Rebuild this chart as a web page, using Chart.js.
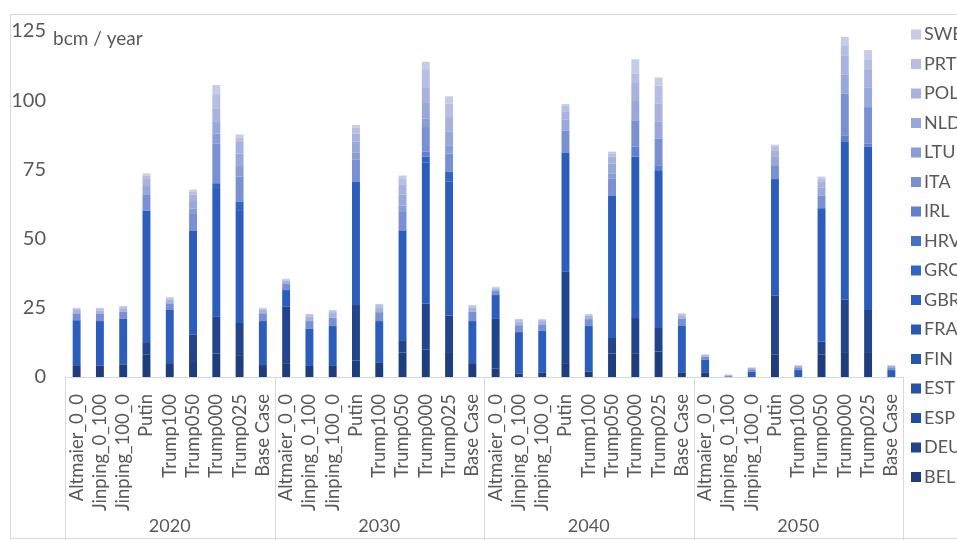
<!DOCTYPE html>
<html>
<head>
<meta charset="utf-8">
<script src="https://cdn.jsdelivr.net/npm/chart.js@4.4.1/dist/chart.umd.min.js"></script>
<style>
    html, body { margin: 0; padding: 0; background: #fff; }
    #wrap { position: relative; width: 957px; height: 540px; overflow: hidden; }
    #frame { position: absolute; left: 10px; top: 14px; width: 1000px; height: 523px; border: 1px solid #d9d9d9; }
    canvas { position: absolute; left: 0; top: 0; }
</style>
</head>
<body>
<div id="wrap">
    <div id="frame"></div>
    <canvas id="gasChart" width="957" height="540"></canvas>
</div>
<script>
// categories
const years = ['2020', '2030', '2040', '2050'];
const scenarios = ['Altmaier_0_0', 'Jinping_0_100', 'Jinping_100_0', 'Putin', 'Trump100', 'Trump050', 'Trump000', 'Trump025', 'Base Case'];
const countries = ['BEL', 'DEU', 'ESP', 'EST', 'FIN', 'FRA', 'GBR', 'GRC', 'HRV', 'IRL', 'ITA', 'LTU', 'NLD', 'POL', 'PRT', 'SWE'];

// series values, bcm / year (9 scenarios per year, 2020 | 2030 | 2040 | 2050)
const BEL = [4, 4, 4.5, 8.2, 5, 5.4, 8.5, 7.9, 4.3,   5, 4, 4, 6, 5.1, 8.8, 10, 9, 5,   3, 1.3, 1.5, 5, 2, 8.5, 8.6, 9.2, 1.7,   1.7, 0, 0.3, 8.2, 0, 8.2, 9, 9, 0];
const DEU = [0.3, 0.2, 0.5, 4.4, 0, 10, 13.3, 11.6, 0,   20.4, 0, 0, 20, 0, 4.5, 16.6, 13.2, 0,   18, 0, 0, 33, 0, 5.6, 12.7, 8.5, 0,   0, 0, 0, 21.2, 0, 4.5, 19, 15.2, 0];
const ESP = [0, 0, 0, 0, 0, 0, 0, 0, 0,   0, 0, 0, 0, 0, 0, 0, 0, 0,   0, 0, 0, 0, 0, 0, 0, 0, 0,   0, 0, 0, 0, 0, 0, 0, 0, 0];
const EST = [0, 0, 0, 0, 0, 0, 0, 0, 0,   0, 0, 0, 0, 0, 0, 0, 0, 0,   0, 0, 0, 0, 0, 0, 0, 0, 0,   0, 0, 0, 0, 0, 0, 0, 0, 0];
const FIN = [0, 0, 0, 0, 0, 0, 0, 0, 0,   0, 0, 0, 0, 0, 0, 0, 0, 0,   0, 0, 0, 0, 0, 0, 0, 0, 0,   0, 0, 0, 0, 0, 0, 0, 0, 0];
const FRA = [0, 0, 0, 0, 0, 0, 0, 0, 0,   0, 0, 0, 0, 0, 0, 0, 0, 0,   0, 0, 0, 0, 0, 0, 0, 0, 0,   0, 0, 0, 0, 0, 0, 0, 0, 0];
const GBR = [16.2, 16, 16, 47.4, 19.2, 37.5, 46.5, 40.5, 15.9,   6, 13.4, 14.4, 44.6, 15.1, 39.6, 51, 48.4, 15.2,   8.6, 14.9, 15.1, 43, 16.4, 51.5, 58.3, 57, 16.9,   4.6, 0, 1.6, 42.1, 2.5, 48.3, 56.9, 59, 2.5];
const GRC = [0, 0, 0, 0, 0, 0, 1.7, 3.4, 0,   0, 0, 0, 0, 0, 0, 2, 3.6, 0,   0, 0, 0, 0, 0, 0, 0, 0, 0,   0, 0, 0, 0, 0, 0, 0, 0, 0];
const HRV = [0, 0, 0, 0, 0, 0, 0, 0, 0,   0, 0, 0, 0, 0, 0, 0, 0, 0,   0, 0, 0, 0, 0, 0, 0, 0, 0,   0, 0, 0, 0, 0, 0, 0, 0, 0];
const IRL = [0, 0, 0, 0, 0, 0, 0, 0, 0,   0, 0, 0, 0, 0, 0, 1.8, 0, 0,   0, 0, 0, 0, 0, 0, 3.6, 1.8, 0,   0, 0, 0, 0, 0, 0, 2.4, 1.1, 0];
const ITA = [2.5, 2.7, 2.6, 6, 2.4, 6, 14.4, 9, 2.8,   2.2, 2.8, 3, 8, 3.2, 7, 8.9, 6.5, 3.3,   1.5, 2.5, 2.4, 8, 2.5, 6, 9.5, 9.6, 2.4,   1, 0.4, 0.9, 5, 1, 4.5, 15, 13.2, 1];
const LTU = [0, 0, 0, 0, 0, 2, 3.5, 4.1, 0,   0, 0, 0, 2.4, 0, 2, 3, 3, 0,   0, 0, 0, 0, 0, 2, 0, 0, 0,   0, 0, 0, 0, 0, 0, 0, 0, 0];
const NLD = [0, 0, 0, 3, 0, 3, 4.5, 4.2, 0,   0, 0, 0, 4, 0, 4, 5.7, 5, 0,   0, 0, 0, 4, 0, 3.5, 7, 6.3, 0,   0, 0, 0, 3, 0, 3, 7, 7, 0];
const POL = [1.2, 1.2, 1.2, 2.5, 1.4, 2, 4.5, 4.2, 1.3,   1.2, 1.6, 1.7, 3, 1.8, 3.5, 5.7, 5.2, 1.6,   0.8, 1.4, 1.2, 3, 1.2, 2.5, 6.8, 6.3, 1.3,   0.6, 0.3, 0.5, 2.4, 0.5, 2, 6.7, 6.7, 0.5];
const PRT = [0.5, 0.5, 0.6, 1.2, 0.5, 1, 5.4, 1.5, 0.4,   0.4, 0.6, 0.7, 2, 0.8, 2.4, 6.5, 4.8, 0.5,   0.4, 0.5, 0.5, 2, 0.4, 1.2, 3, 6.5, 0.4,   0, 0, 0, 1.2, 0, 1.2, 3.6, 3.6, 0];
const SWE = [0.3, 0.4, 0.3, 0.8, 0.3, 0.8, 3.2, 1.2, 0.3,   0.3, 0.4, 0.4, 1, 0.4, 1, 2.7, 2.7, 0.4,   0.3, 0.4, 0.3, 0.6, 0.3, 0.6, 5.3, 3, 0.3,   0.3, 0.2, 0.2, 0.8, 0.3, 0.7, 3.3, 3.3, 0.3];

const yTicks = [0, 25, 50, 75, 100, 125];

const seriesValues = [BEL, DEU, ESP, EST, FIN, FRA, GBR, GRC, HRV, IRL, ITA, LTU, NLD, POL, PRT, SWE];
const seriesColors = ['#1e3d7c', '#21448c', '#234b9b', '#2551a6', '#2755ae', '#2959b5', '#2b5dbc', '#3264c2',
    '#4470c6', '#5f82cc', '#7990d2', '#8a9dd6', '#99a8da', '#a7b3de', '#b6bfe3', '#c6cce8'];

const labels = years.flatMap(() => scenarios);
const textColor = '#595959';
const lineColor = '#d9d9d9';
const fontFamily = 'Lato, "Open Sans", sans-serif';

// year boxes under the scenario labels, unit text, legend on the right
const extrasPlugin = {
    id: 'extras',
    afterDraw(chart) {
        const ctx = chart.ctx;
        const xScale = chart.scales.x;
        const area = chart.chartArea;
        const step = (area.right - area.left) / labels.length;

        ctx.save();
        ctx.strokeStyle = lineColor;
        ctx.lineWidth = 1;
        for (let g = 0; g <= years.length; g++) {
            const x = Math.round(area.left + g * scenarios.length * step) + 0.5;
            ctx.beginPath();
            ctx.moveTo(x, area.bottom);
            ctx.lineTo(x, 540);
            ctx.stroke();
        }

        ctx.fillStyle = textColor;
        ctx.font = '18px ' + fontFamily;
        ctx.textAlign = 'center';
        ctx.textBaseline = 'middle';
        years.forEach((year, g) => {
            const first = xScale.getPixelForValue(g * scenarios.length);
            const last = xScale.getPixelForValue((g + 1) * scenarios.length - 1);
            ctx.fillText(year, (first + last) / 2, 526);
        });

        ctx.font = '19px ' + fontFamily;
        ctx.textAlign = 'left';
        ctx.textBaseline = 'alphabetic';
        ctx.fillText('bcm / year', 53, 45);

        ctx.font = '18px ' + fontFamily;
        ctx.textBaseline = 'middle';
        chart.data.datasets.forEach((ds, i) => {
            const y = 477 - i * 29.5;
            ctx.fillStyle = ds.backgroundColor;
            ctx.fillRect(911, y - 5, 10, 10);
            ctx.fillStyle = textColor;
            ctx.fillText(ds.label, 924, y);
        });
        ctx.restore();
    }
};

const ctx = document.getElementById('gasChart').getContext('2d');
new Chart(ctx, {
    type: 'bar',
    data: {
        labels: labels,
        datasets: countries.map((name, i) => ({
            label: name,
            data: seriesValues[i],
            backgroundColor: seriesColors[i],
            borderWidth: 0,
            categoryPercentage: 1,
            barPercentage: 0.34
        }))
    },
    options: {
        responsive: false,
        animation: false,
        layout: { padding: { left: 0, top: 28, right: 54, bottom: 0 } },
        plugins: {
            legend: { display: false },
            tooltip: { enabled: false }
        },
        scales: {
            x: {
                stacked: true,
                grid: { display: false },
                border: { display: true, color: lineColor },
                ticks: {
                    autoSkip: false,
                    maxRotation: 90,
                    minRotation: 90,
                    padding: 9,
                    color: textColor,
                    font: { family: fontFamily, size: 18.5 }
                },
                afterFit(scale) { scale.height = 163; }
            },
            y: {
                stacked: true,
                min: 0,
                max: 125,
                grid: { display: false, drawTicks: false },
                border: { display: false },
                afterBuildTicks(scale) { scale.ticks = yTicks.map(v => ({ value: v })); },
                ticks: {
                    padding: 19,
                    color: textColor,
                    font: { family: fontFamily, size: 20 }
                },
                afterFit(scale) { scale.width = 65; }
            }
        }
    },
    plugins: [extrasPlugin]
});
</script>
</body>
</html>
